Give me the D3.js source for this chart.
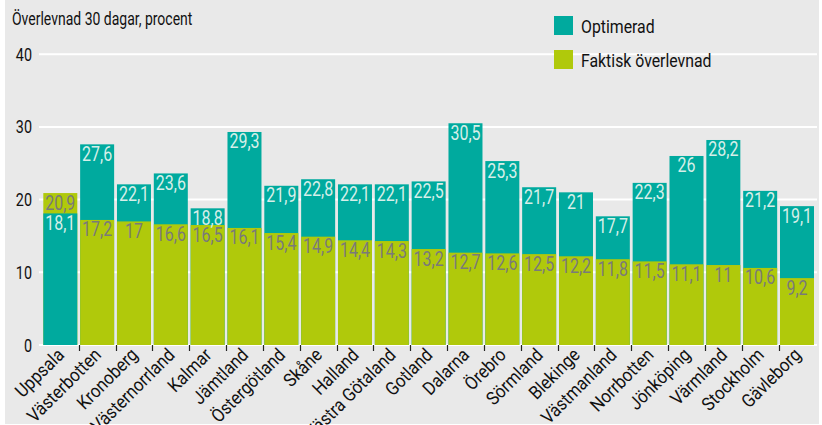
<!DOCTYPE html>
<html><head><meta charset="utf-8">
<script src="https://cdn.jsdelivr.net/npm/d3@7"></script>
<style>
html,body{margin:0;padding:0;background:#fff;}
svg{display:block;}
text{font-family:Roboto,"Noto Sans",sans-serif;}
</style></head>
<body>
<svg id="chart" width="822" height="425"></svg>
<script>
const regions = ["Uppsala","Västerbotten","Kronoberg","Västernorrland","Kalmar","Jämtland","Östergötland","Skåne","Halland","Västra Götaland","Gotland","Dalarna","Örebro","Sörmland","Blekinge","Västmanland","Norrbotten","Jönköping","Värmland","Stockholm","Gävleborg"];
const optimerad = [18.1,27.6,22.1,23.6,18.8,29.3,21.9,22.8,22.1,22.1,22.5,30.5,25.3,21.7,21,17.7,22.3,26,28.2,21.2,19.1];
const faktisk = [20.9,17.2,17,16.6,16.5,16.1,15.4,14.9,14.4,14.3,13.2,12.7,12.6,12.5,12.2,11.8,11.5,11.1,11,10.6,9.2];
const yTicks = [0,10,20,30,40];
const seriesNames = ["Optimerad","Faktisk överlevnad"];
const colors = ["#00aa9e","#b0c90b"];
const labelColors = ["#d6efe9","#7a7a7a"];

const svg = d3.select("#chart");
svg.append("rect").attr("x",5).attr("y",0).attr("width",814).attr("height",424).attr("fill","#e9e9e9");

const x = d3.scaleBand().domain(regions).range([41.9,815.4]).paddingInner(0.077).paddingOuter(0.038);
const y = d3.scaleLinear().domain([0,40]).range([345,54.2]);
const fmt = v => String(v).replace(".",",");
const tr = (px,py,sx,extra="") => `translate(${px},${py})${extra} scale(${sx},1)`;

// gridlines
svg.append("g").selectAll("line").data(yTicks).join("line")
  .attr("x1",39).attr("x2",817).attr("y1",d=>y(d)).attr("y2",d=>y(d))
  .attr("stroke","#fff").attr("stroke-width",2);
// y labels
svg.append("g").selectAll("text").data(yTicks).join("text")
  .attr("transform",d=>tr(32,y(d)+6.5,0.82)).attr("text-anchor","end")
  .attr("font-size",17.5).attr("fill","#111").text(d=>d);

// title
svg.append("text").attr("transform",tr(12,25,0.8)).attr("font-size",17.5).attr("fill","#111")
  .text("Överlevnad 30 dagar, procent");

// bars
const rows = regions.map((r,i)=>{
  const items = [{s:0,v:optimerad[i]},{s:1,v:faktisk[i]}].sort((a,b)=>b.v-a.v);
  return {r, items};
});
const g = svg.append("g");
rows.forEach(row=>{
  const gg = g.append("g");
  gg.selectAll("rect").data(row.items).join("rect")
    .attr("x",x(row.r)).attr("width",x.bandwidth())
    .attr("y",d=>y(d.v)).attr("height",d=>y(0)-y(d.v))
    .attr("fill",d=>colors[d.s]);
  gg.selectAll("text").data(row.items).join("text")
    .attr("transform",d=>tr(x(row.r)+x.bandwidth()/2, y(d.v)+16.5,0.8))
    .attr("text-anchor","middle").attr("font-size",20)
    .attr("fill",d=>labelColors[d.s]).text(d=>fmt(d.v));
});

// x axis ticks (between bars)
const step = x.step(), gap = step - x.bandwidth();
svg.append("g").selectAll("line").data(regions.slice(1)).join("line")
  .attr("x1",d=>Math.round(x(d)-gap/2)+0.5).attr("x2",d=>Math.round(x(d)-gap/2)+0.5)
  .attr("y1",345).attr("y2",351).attr("stroke","#222").attr("stroke-width",1.2);
// x labels
svg.append("g").selectAll("text").data(regions).join("text")
  .attr("transform",d=>tr(x(d)+x.bandwidth()/2+5,356,0.9," rotate(-45)"))
  .attr("text-anchor","end").attr("font-size",18.5).attr("fill","#111").text(d=>d);

// legend
const lg = svg.append("g");
seriesNames.forEach((n,i)=>{
  lg.append("rect").attr("x",554).attr("y",16+i*34).attr("width",19).attr("height",19).attr("fill",colors[i]);
  lg.append("text").attr("transform",tr(581,32.5+i*34,0.88)).attr("font-size",18).attr("fill","#111").text(n);
});
</script>
</body></html>
